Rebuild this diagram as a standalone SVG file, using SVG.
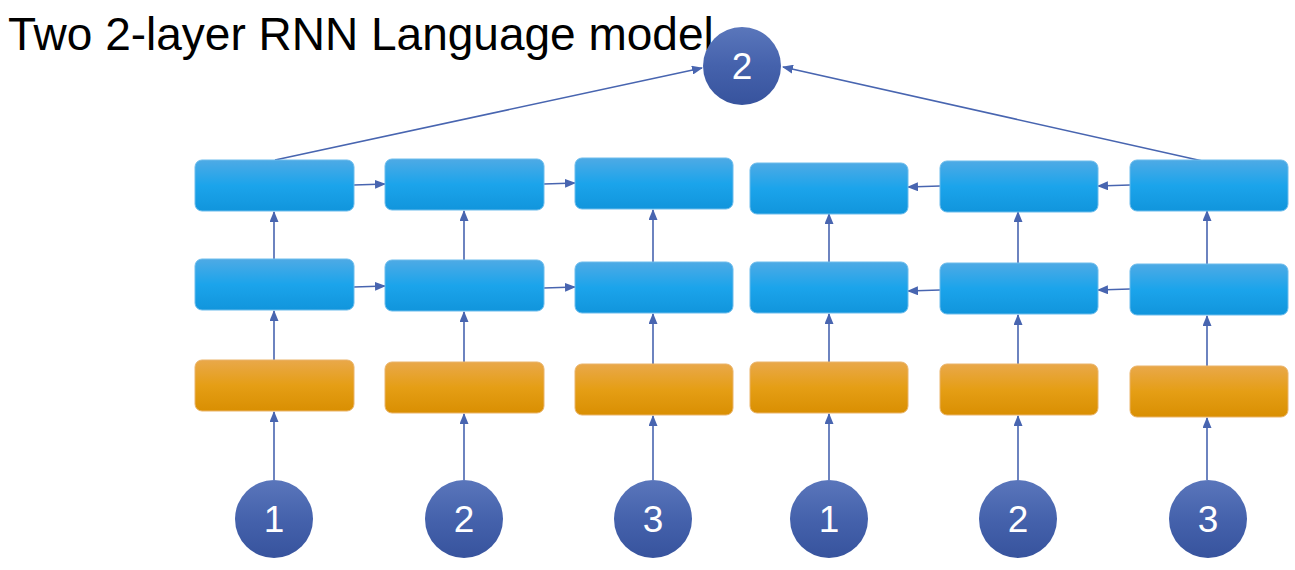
<svg xmlns="http://www.w3.org/2000/svg" width="1295" height="570" viewBox="0 0 1295 570">
<defs>
<linearGradient id="gBlue" x1="0" y1="0" x2="0" y2="1">
<stop offset="0" stop-color="#4eaae5"/>
<stop offset="0.5" stop-color="#1ba4eb"/>
<stop offset="1" stop-color="#1195dc"/>
</linearGradient>
<linearGradient id="gOrange" x1="0" y1="0" x2="0" y2="1">
<stop offset="0" stop-color="#e9a84a"/>
<stop offset="0.5" stop-color="#e59e15"/>
<stop offset="1" stop-color="#d98f02"/>
</linearGradient>
<linearGradient id="gCircle" x1="0" y1="0" x2="0" y2="1">
<stop offset="0" stop-color="#5a76bb"/>
<stop offset="0.5" stop-color="#4562ac"/>
<stop offset="1" stop-color="#37539d"/>
</linearGradient>
<marker id="arr" markerUnits="userSpaceOnUse" markerWidth="11" markerHeight="9" refX="10" refY="4.5" orient="auto">
<path d="M0,0 L11,4.5 L0,9 z" fill="#4865b0"/>
</marker>
</defs>
<style>
.blue{fill:url(#gBlue);stroke:#6cbcec;stroke-width:1}
.orange{fill:url(#gOrange);stroke:#eab46a;stroke-width:1}
.circ{fill:url(#gCircle)}
.num{font-family:"Liberation Sans",Arial,sans-serif;font-size:37px;fill:#ffffff;text-anchor:middle}
.title{font-family:"Liberation Sans",Arial,sans-serif;font-size:46px;fill:#000000}
.c{stroke:#4865b0;stroke-width:1.6;fill:none;marker-end:url(#arr)}
</style>
<text class="title" x="8" y="50">Two 2-layer RNN Language model</text>
<g id="connectors">
<line class="c" x1="275" y1="160" x2="702" y2="68"/>
<line class="c" x1="1207" y1="162" x2="783" y2="67"/>
<line class="c" x1="274" y1="480" x2="274" y2="412"/>
<line class="c" x1="274" y1="360" x2="274" y2="311"/>
<line class="c" x1="274" y1="259" x2="274" y2="212"/>
<line class="c" x1="464" y1="480" x2="464" y2="414"/>
<line class="c" x1="464" y1="362" x2="464" y2="312"/>
<line class="c" x1="464" y1="260" x2="464" y2="211"/>
<line class="c" x1="653" y1="480" x2="653" y2="416"/>
<line class="c" x1="653" y1="364" x2="653" y2="314"/>
<line class="c" x1="653" y1="262" x2="653" y2="210"/>
<line class="c" x1="829" y1="480" x2="829" y2="414"/>
<line class="c" x1="829" y1="362" x2="829" y2="314"/>
<line class="c" x1="829" y1="262" x2="829" y2="214"/>
<line class="c" x1="1018" y1="480" x2="1018" y2="416"/>
<line class="c" x1="1018" y1="364" x2="1018" y2="315"/>
<line class="c" x1="1018" y1="263" x2="1018" y2="212"/>
<line class="c" x1="1207" y1="480" x2="1207" y2="418"/>
<line class="c" x1="1207" y1="366" x2="1207" y2="316"/>
<line class="c" x1="1207" y1="264" x2="1207" y2="211"/>
<line class="c" x1="354" y1="185" x2="385" y2="184"/>
<line class="c" x1="354" y1="287" x2="385" y2="286"/>
<line class="c" x1="544" y1="184" x2="575" y2="183"/>
<line class="c" x1="544" y1="288" x2="575" y2="287"/>
<line class="c" x1="1130" y1="185" x2="1098" y2="186"/>
<line class="c" x1="940" y1="186" x2="908" y2="187"/>
<line class="c" x1="1130" y1="289" x2="1098" y2="290"/>
<line class="c" x1="940" y1="290" x2="908" y2="291"/>
</g>
<g id="top1"><rect class="blue" x="195" y="160" width="159" height="51" rx="7"/></g>
<g id="top2"><rect class="blue" x="385" y="159" width="159" height="51" rx="7"/></g>
<g id="top3"><rect class="blue" x="575" y="158" width="158" height="51" rx="7"/></g>
<g id="top4"><rect class="blue" x="750" y="163" width="158" height="51" rx="7"/></g>
<g id="top5"><rect class="blue" x="940" y="161" width="158" height="51" rx="7"/></g>
<g id="top6"><rect class="blue" x="1130" y="160" width="158" height="51" rx="7"/></g>
<g id="mid1"><rect class="blue" x="195" y="259" width="159" height="51" rx="7"/></g>
<g id="mid2"><rect class="blue" x="385" y="260" width="159" height="51" rx="7"/></g>
<g id="mid3"><rect class="blue" x="575" y="262" width="158" height="51" rx="7"/></g>
<g id="mid4"><rect class="blue" x="750" y="262" width="158" height="51" rx="7"/></g>
<g id="mid5"><rect class="blue" x="940" y="263" width="158" height="51" rx="7"/></g>
<g id="mid6"><rect class="blue" x="1130" y="264" width="158" height="51" rx="7"/></g>
<g id="emb1"><rect class="orange" x="195" y="360" width="159" height="51" rx="7"/></g>
<g id="emb2"><rect class="orange" x="385" y="362" width="159" height="51" rx="7"/></g>
<g id="emb3"><rect class="orange" x="575" y="364" width="158" height="51" rx="7"/></g>
<g id="emb4"><rect class="orange" x="750" y="362" width="158" height="51" rx="7"/></g>
<g id="emb5"><rect class="orange" x="940" y="364" width="158" height="51" rx="7"/></g>
<g id="emb6"><rect class="orange" x="1130" y="366" width="158" height="51" rx="7"/></g>
<g id="in1"><circle class="circ" cx="274" cy="519" r="39"/><text class="num" x="274" y="532">1</text></g>
<g id="in2"><circle class="circ" cx="464" cy="519" r="39"/><text class="num" x="464" y="532">2</text></g>
<g id="in3"><circle class="circ" cx="653" cy="519" r="39"/><text class="num" x="653" y="532">3</text></g>
<g id="in4"><circle class="circ" cx="829" cy="519" r="39"/><text class="num" x="829" y="532">1</text></g>
<g id="in5"><circle class="circ" cx="1018" cy="519" r="39"/><text class="num" x="1018" y="532">2</text></g>
<g id="in6"><circle class="circ" cx="1208" cy="519" r="39"/><text class="num" x="1208" y="532">3</text></g>
<g id="out"><circle class="circ" cx="742" cy="66" r="39"/><text class="num" x="742" y="79">2</text></g>
</svg>
